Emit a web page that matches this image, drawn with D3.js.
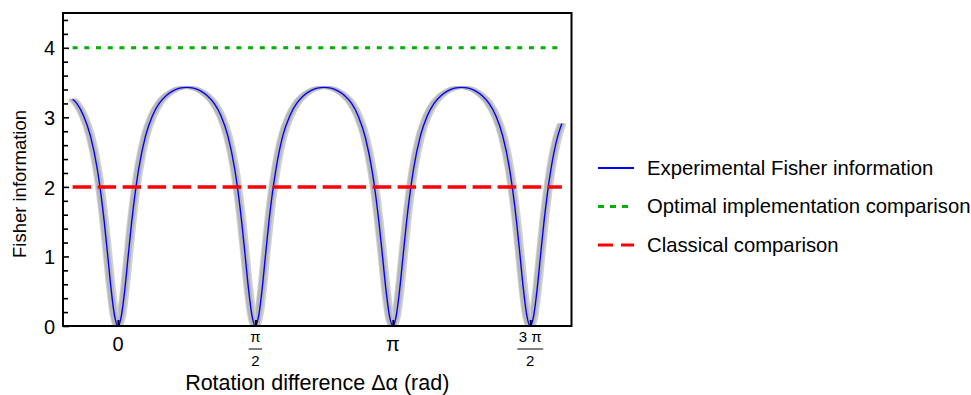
<!DOCTYPE html>
<html>
<head>
<meta charset="utf-8">
<script src="https://d3js.org/d3.v7.min.js"></script>
<style>
body { margin: 0; background: #fff; }
text { font-family: "Liberation Sans", Arial, Helvetica, sans-serif; fill: #000; }
</style>
</head>
<body>
<script>

var width = 971;
var height = 395;
var plot = {left: 63, right: 571.5, top: 13, bottom: 326};

// rotation difference, in units of pi
let alphaPi = [
    -0.165, -0.15, -0.125, -0.1, -0.075, -0.0625, -0.05, -0.0375, -0.025, -0.0125,
    0, 0.0125, 0.025, 0.0375, 0.05, 0.0625, 0.075, 0.1, 0.125, 0.15, 0.175, 0.2, 0.225,
    0.25, 0.275, 0.3, 0.325, 0.35, 0.375, 0.4, 0.425, 0.4375, 0.45, 0.4625, 0.475, 0.4875,
    0.5, 0.5125, 0.525, 0.5375, 0.55, 0.5625, 0.575, 0.6, 0.625, 0.65, 0.675, 0.7, 0.725,
    0.75, 0.775, 0.8, 0.825, 0.85, 0.875, 0.9, 0.925, 0.9375, 0.95, 0.9625, 0.975, 0.9875,
    1, 1.0125, 1.025, 1.0375, 1.05, 1.0625, 1.075, 1.1, 1.125, 1.15, 1.175, 1.2, 1.225,
    1.25, 1.275, 1.3, 1.325, 1.35, 1.375, 1.4, 1.425, 1.4375, 1.45, 1.4625, 1.475, 1.4875,
    1.5, 1.5125, 1.525, 1.5375, 1.55, 1.5625, 1.575, 1.6, 1.615
];
let fisher = [
    3.26, 3.20, 3.02, 2.73, 2.25, 1.91, 1.50, 1.02, 0.53, 0.15,
    0, 0.15, 0.53, 1.02, 1.50, 1.91, 2.25, 2.73, 3.02, 3.20, 3.31, 3.38, 3.42,
    3.43, 3.42, 3.38, 3.31, 3.20, 3.02, 2.73, 2.25, 1.91, 1.50, 1.02, 0.53, 0.15,
    0, 0.16, 0.55, 1.05, 1.53, 1.93, 2.26, 2.74, 3.02, 3.20, 3.31, 3.38, 3.42,
    3.43, 3.42, 3.38, 3.31, 3.20, 3.01, 2.71, 2.22, 1.88, 1.47, 1.00, 0.52, 0.15,
    0, 0.15, 0.53, 1.02, 1.50, 1.91, 2.25, 2.73, 3.02, 3.20, 3.31, 3.38, 3.42,
    3.43, 3.42, 3.38, 3.31, 3.20, 3.02, 2.73, 2.25, 1.91, 1.50, 1.02, 0.53, 0.15,
    0, 0.15, 0.53, 1.02, 1.50, 1.91, 2.25, 2.73, 2.91
];

let optimalLevel = 4;
let classicalLevel = 2;

let yMajor = [0, 1, 2, 3, 4];
let yMinor = [0.2, 0.4, 0.6, 0.8, 1.2, 1.4, 1.6, 1.8, 2.2, 2.4, 2.6, 2.8,
              3.2, 3.4, 3.6, 3.8, 4.2, 4.4];
let xTickPos = [0, 0.5, 1, 1.5];
let xTickLabels = ["0", "π/2", "π", "3 π/2"];

let legendLabels = ["Experimental Fisher information", "Optimal implementation comparison", "Classical comparison"];
let legendColors = ["#0000ff", "#00b000", "#ff0000"];
let legendDash = ["none", "6,6", "15,8"];

var xScale = d3.scaleLinear()
    .domain([-0.2, 1.65])
    .range([plot.left, plot.right]);
var yScale = d3.scaleLinear()
    .domain([0, 4.5])
    .range([plot.bottom, plot.top]);

let svg = d3.select('body')
    .append('svg')
        .attr('width', width)
        .attr('height', height);

svg.append('clipPath')
    .attr('id', 'plotclip')
    .append('rect')
        .attr('x', plot.left)
        .attr('y', plot.top)
        .attr('width', plot.right - plot.left)
        .attr('height', plot.bottom - plot.top);

let data = alphaPi.map((a, i) => [a, fisher[i]]);
let xExtent = d3.extent(alphaPi);

var line = d3.line()
    .x(d => xScale(d[0]))
    .y(d => yScale(d[1]))
    .curve(d3.curveMonotoneX);

let chart = svg.append('g').attr('clip-path', 'url(#plotclip)');

// grey uncertainty band, spread sideways round the measured curve
let shifts = [-3.5, -2.5, 2.5, 3.5, -1.5, -0.5, 0.5, 1.5];
chart.selectAll('.band')
    .data(shifts)
    .enter().append('path')
        .attr('class', 'band')
        .attr('d', line(data))
        .attr('transform', d => 'translate(' + d + ',0)')
        .attr('fill', 'none')
        .attr('stroke', d => Math.abs(d) > 3 ? '#d0d0d0' : '#b8b8b8')
        .attr('stroke-width', 2.6);

chart.append('path')
    .datum(data)
    .attr('fill', 'none')
    .attr('stroke', '#0000ff')
    .attr('stroke-width', 1.4)
    .attr('d', line);

chart.append('path')
    .datum(xExtent.map(a => [a, optimalLevel]))
    .attr('fill', 'none')
    .attr('stroke', '#00b000')
    .attr('stroke-width', 3)
    .attr('stroke-dasharray', '5,6.7')
    .attr('d', d3.line().x(d => xScale(d[0])).y(d => yScale(d[1])));

chart.append('path')
    .datum(xExtent.map(a => [a, classicalLevel]))
    .attr('fill', 'none')
    .attr('stroke', '#ff0000')
    .attr('stroke-width', 3.5)
    .attr('stroke-dasharray', '18.5,6.5')
    .attr('d', d3.line().x(d => xScale(d[0])).y(d => yScale(d[1])));

// y axis, ticks point inward
var yAxis = d3.axisLeft(yScale)
    .tickValues(yMajor)
    .tickSize(-6)
    .tickPadding(8)
    .tickFormat(d3.format('d'));

let ya = svg.append('g')
    .attr('class', 'y axis')
    .attr('transform', 'translate(' + plot.left + ',0)')
    .call(yAxis);
ya.select('.domain').remove();
ya.selectAll('line').attr('stroke-width', 1.6);
ya.selectAll('text').style('font-size', '20px').attr('dy', '0.36em');

let yMinorAxis = svg.append('g')
    .attr('transform', 'translate(' + plot.left + ',0)')
    .call(d3.axisLeft(yScale).tickValues(yMinor).tickSize(-5).tickFormat(''));
yMinorAxis.select('.domain').remove();
yMinorAxis.selectAll('line').attr('stroke-width', 1.6);

var xAxis = d3.axisBottom(xScale)
    .tickValues(xTickPos)
    .tickSize(-6)
    .tickFormat('');

let xa = svg.append('g')
    .attr('class', 'x axis')
    .attr('transform', 'translate(0,' + plot.bottom + ')')
    .call(xAxis);
xa.select('.domain').remove();
xa.selectAll('line').attr('stroke-width', 2);

// x tick labels, fractions stacked
xTickPos.forEach(function(p, i) {
    let parts = xTickLabels[i].split('/');
    let cx = xScale(p);
    if (parts.length == 1) {
        svg.append('text')
            .attr('x', cx)
            .attr('y', 351)
            .attr('text-anchor', 'middle')
            .style('font-size', '20px')
            .text(parts[0]);
    } else {
        let num = svg.append('text')
            .attr('x', cx)
            .attr('y', 342)
            .attr('text-anchor', 'middle')
            .style('font-size', '15px')
            .text(parts[0]);
        let den = svg.append('text')
            .attr('x', cx)
            .attr('y', 366)
            .attr('text-anchor', 'middle')
            .style('font-size', '15px')
            .text(parts[1]);
        let w = Math.max(num.node().getComputedTextLength(), den.node().getComputedTextLength()) + 3;
        svg.append('line')
            .attr('x1', cx - w / 2)
            .attr('x2', cx + w / 2)
            .attr('y1', 349)
            .attr('y2', 349)
            .attr('stroke', '#000')
            .attr('stroke-width', 1);
    }
});

// frame
svg.append('rect')
    .attr('x', plot.left)
    .attr('y', plot.top)
    .attr('width', plot.right - plot.left)
    .attr('height', plot.bottom - plot.top)
    .attr('fill', 'none')
    .attr('stroke', '#000')
    .attr('stroke-width', 2);

svg.append('text')
    .attr('x', (plot.left + plot.right) / 2)
    .attr('y', 390)
    .attr('text-anchor', 'middle')
    .style('font-size', '21.5px')
    .text('Rotation difference Δα (rad)');

svg.append('text')
    .attr('transform', 'translate(26,184) rotate(-90)')
    .attr('text-anchor', 'middle')
    .style('font-size', '18.5px')
    .text('Fisher information');

// legend
let legend = svg.selectAll('.legend')
    .data(legendLabels)
    .enter().append('g')
        .attr('class', 'legend')
        .attr('transform', (d, i) => 'translate(598,' + (168 + i * 38.5) + ')');

legend.append('line')
    .attr('x1', 0)
    .attr('x2', 36)
    .attr('stroke', (d, i) => legendColors[i])
    .attr('stroke-width', (d, i) => i == 0 ? 1.8 : 3)
    .attr('stroke-dasharray', (d, i) => legendDash[i]);

legend.append('text')
    .attr('x', 49)
    .attr('y', 6.5)
    .style('font-size', '20.3px')
    .text(d => d);

</script>
</body>
</html>
